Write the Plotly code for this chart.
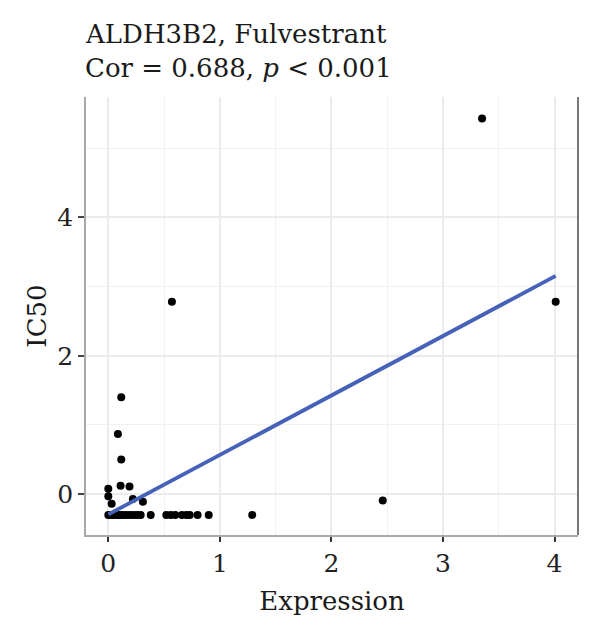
import numpy as np
import plotly.graph_objects as go

# ---- data ----
expression = [0.116, 0.086, 0.116, 0.11, 0.19, 0.0, 0.0, 0.03, 0.22, 0.31,
              0.57, 4.01, 3.35, 2.46, 1.29,
              0.0, 0.02, 0.04, 0.06, 0.08, 0.10, 0.12, 0.14, 0.17, 0.20,
              0.23, 0.26, 0.29, 0.38, 0.52, 0.56, 0.60, 0.66, 0.70, 0.73,
              0.80, 0.90]
ic50 = [1.40, 0.87, 0.50, 0.12, 0.11, 0.08, -0.03, -0.14, -0.07, -0.11,
        2.78, 2.78, 5.43, -0.09, -0.30,
        -0.30, -0.30, -0.30, -0.30, -0.30, -0.30, -0.30, -0.30, -0.30, -0.30,
        -0.30, -0.30, -0.30, -0.30, -0.30, -0.30, -0.30, -0.30, -0.30, -0.30,
        -0.30, -0.30]
x_ticks = [0, 1, 2, 3, 4]
y_ticks = [0, 2, 4]
title_line1 = "ALDH3B2, Fulvestrant"
title_line2 = "Cor = 0.688, <i>p</i> < 0.001"
x_title = "Expression"
y_title = "IC50"

# linear fit (as geom_smooth(method="lm"))
slope, intercept = np.polyfit(expression, ic50, 1)
fit_x = np.linspace(min(expression), max(expression), 60)
fit_y = intercept + slope * fit_x

FONT = "DejaVu Serif"

fig = go.Figure()
fig.add_trace(go.Scatter(x=expression, y=ic50, mode="markers",
                         marker=dict(color="black", size=8),
                         hoverinfo="skip", showlegend=False))
fig.add_trace(go.Scatter(x=fit_x, y=fit_y, mode="lines",
                         line=dict(color="#4661B8", width=3.8),
                         hoverinfo="skip", showlegend=False))

fig.update_layout(
    width=600, height=640,
    margin=dict(l=86, r=22, t=97, b=105),
    paper_bgcolor="white", plot_bgcolor="white",
    font=dict(family=FONT, color="#1a1a1a"),
    showlegend=False,
)

fig.update_xaxes(
    range=[-0.2, 4.21], tickvals=x_ticks, ticktext=[str(v) for v in x_ticks],
    showgrid=True, gridcolor="#EBEBEB", gridwidth=1.6,
    minor=dict(dtick=0.5, tick0=0, showgrid=True, gridcolor="#F1F1F1", gridwidth=1),
    zeroline=False,
    showline=True, linecolor="#A8A8A8", linewidth=1.5,
    ticks="outside", ticklen=5, tickwidth=2, tickcolor="#333333",
    tickfont=dict(size=25, family=FONT, color="#222222"),
    title=dict(text=x_title, font=dict(size=26, family=FONT, color="#1a1a1a"), standoff=15),
)
fig.update_yaxes(
    range=[-0.59, 5.74], tickvals=y_ticks, ticktext=[str(v) for v in y_ticks],
    showgrid=True, gridcolor="#EBEBEB", gridwidth=1.6,
    minor=dict(dtick=1, tick0=1, showgrid=True, gridcolor="#F1F1F1", gridwidth=1),
    zeroline=False,
    showline=True, linecolor="#A8A8A8", linewidth=1.5,
    ticks="outside", ticklen=6, tickwidth=2, tickcolor="#444444",
    tickfont=dict(size=25, family=FONT, color="#222222"),
    title=dict(text=y_title, font=dict(size=26, family=FONT, color="#1a1a1a"), standoff=3),
)

# right-hand frame line
fig.add_shape(type="line", xref="paper", yref="paper", x0=1, x1=1, y0=0, y1=1,
              line=dict(color="#555555", width=1.6))

fig.add_annotation(text=title_line1, xref="paper", yref="paper", x=-0.006, y=1.143,
                   xanchor="left", yanchor="middle", showarrow=False,
                   font=dict(size=26, family=FONT, color="#1a1a1a"))
fig.add_annotation(text=title_line2, xref="paper", yref="paper", x=-0.006, y=1.066,
                   xanchor="left", yanchor="middle", showarrow=False,
                   font=dict(size=26, family=FONT, color="#1a1a1a"))

fig.write_html("out.html")
